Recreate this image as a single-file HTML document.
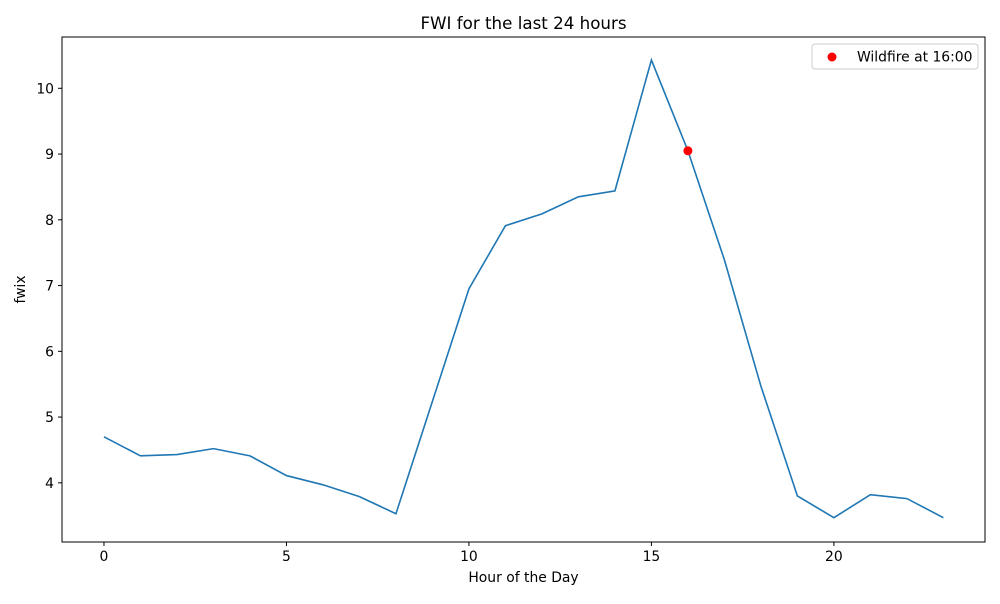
<!DOCTYPE html>
<html><head><meta charset="utf-8"><style>
body{margin:0;background:#fff;font-family:"DejaVu Sans","Liberation Sans",sans-serif;}
svg text{font-family:"DejaVu Sans","Liberation Sans",sans-serif;}
</style></head><body>
<svg id="chart" width="1000" height="600" xmlns="http://www.w3.org/2000/svg">
<rect width="1000" height="600" fill="#fff"/>
<g id="g"></g>
</svg>
<script>
const hours=[0,1,2,3,4,5,6,7,8,9,10,11,12,13,14,15,16,17,18,19,20,21,22,23];
const fwix=[4.70,4.41,4.43,4.52,4.41,4.11,3.97,3.79,3.53,5.24,6.95,7.91,8.09,8.35,8.44,10.43,9.05,7.39,5.47,3.80,3.47,3.82,3.76,3.47];
const xTicks=[0,5,10,15,20];
const yTicks=[4,5,6,7,8,9,10];
const fireHour=[16];
const fireVal=[9.05];
const L=62,R=985,T=37,B=542;
const x0=-1.15,x1=24.14,y0=3.10,y1=10.78;
const sx=v=>L+(v-x0)/(x1-x0)*(R-L);
const sy=v=>B-(v-y0)/(y1-y0)*(B-T);
const g=document.getElementById('g');
const NS='http://www.w3.org/2000/svg';
function mk(tag,attrs,parent){const e=document.createElementNS(NS,tag);for(const k in attrs)e.setAttribute(k,attrs[k]);(parent||g).appendChild(e);return e;}
const frame=mk('rect',{x:L,y:T,width:R-L,height:B-T,fill:'none',stroke:'#000','stroke-width':1});


xTicks.forEach(v=>{
 const t=mk('line',{x1:sx(v),x2:sx(v),y1:B,y2:B+4,stroke:'#000'});
 
 
 const l=mk('text',{x:sx(v),y:B+19,'text-anchor':'middle','font-size':13.9});
 l.textContent=v;
 
 
});
yTicks.forEach(v=>{
 const t=mk('line',{x1:L-4,x2:L,y1:sy(v),y2:sy(v),stroke:'#000'});
 
 
 const l=mk('text',{x:L-8,y:sy(v)+5,'text-anchor':'end','font-size':13.9});
 l.textContent=v;
 
 
});
const line=mk('polyline',{points:hours.map((h,i)=>sx(h)+','+sy(fwix[i])).join(' '),fill:'none',stroke:'#1f77b4','stroke-width':1.6});


fireHour.forEach((h,i)=>{
 const c=mk('circle',{cx:sx(h),cy:sy(fireVal[i]),r:4.5,fill:'red'});
 
 
});
const title=mk('text',{x:(L+R)/2,y:29,'text-anchor':'middle','font-size':16.7});
title.textContent='FWI for the last 24 hours';


const xl=mk('text',{x:(L+R)/2,y:582,'text-anchor':'middle','font-size':13.9});
xl.textContent='Hour of the Day';


const yl=mk('text',{x:25,y:(T+B)/2,'text-anchor':'middle','font-size':13.9,transform:'rotate(-90 25 '+((T+B)/2)+')'});
yl.textContent='fwix';


const lg=mk('g',{});


mk('rect',{x:812,y:44,width:166,height:25,rx:3,fill:'#fff',stroke:'#ccc'},lg);
mk('circle',{cx:832,cy:57,r:4.5,fill:'red'},lg);
const lt=mk('text',{x:857,y:61.5,'font-size':13.9},lg);
lt.textContent='Wildfire at 16:00';


</script>
</body></html>
